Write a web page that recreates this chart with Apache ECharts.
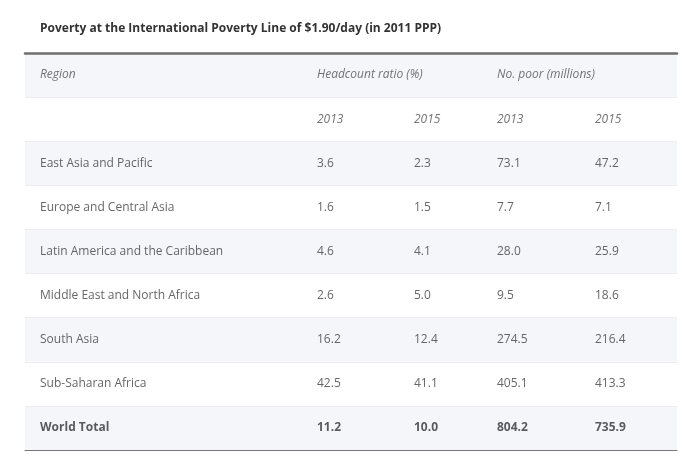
<!DOCTYPE html>
<html>
<head>
<meta charset="utf-8">
<script src="https://cdn.jsdelivr.net/npm/echarts@6/dist/echarts.min.js"></script>
<style>html,body{margin:0;padding:0;background:#fff}#c{width:699px;height:465px}</style>
</head>
<body>
<div id="c"></div>
<script>
// ---- data ----
const title = 'Poverty at the International Poverty Line of $1.90/day (in 2011 PPP)';
const headerRow = ['Region', 'Headcount ratio (%)', '', 'No. poor (millions)', ''];
const yearRow = ['', '2013', '2015', '2013', '2015'];
const regions = ['East Asia and Pacific', 'Europe and Central Asia', 'Latin America and the Caribbean',
  'Middle East and North Africa', 'South Asia', 'Sub-Saharan Africa', 'World Total'];
const headcount2013 = ['3.6', '1.6', '4.6', '2.6', '16.2', '42.5', '11.2'];
const headcount2015 = ['2.3', '1.5', '4.1', '5.0', '12.4', '41.1', '10.0'];
const poor2013 = ['73.1', '7.7', '28.0', '9.5', '274.5', '405.1', '804.2'];
const poor2015 = ['47.2', '7.1', '25.9', '18.6', '216.4', '413.3', '735.9'];

// ---- layout (styling only) ----
const colStart = [15, 292, 389, 472, 570]; // px offset of each column inside table width
const tableWidth = 652;
const FONT = '"Open Sans", sans-serif';

const rowKeys = ['header', 'years'].concat(regions.map((r, i) => 'r' + i));
const bodyCols = [regions, headcount2013, headcount2015, poor2013, poor2015];

function cellText(c, r) {
  if (r === 0) return headerRow[c];
  if (r === 1) return yearRow[c];
  return bodyCols[c][r - 2];
}
function cellStyle(r) {
  if (r <= 1) return { fontStyle: 'italic', color: '#505050' };
  if (r === rowKeys.length - 1) return { fontWeight: 'bold', color: '#333' };
  return { color: '#404040' };
}

const series = [];
for (let c = 0; c < 5; c++) {
  const data = [];
  for (let r = 0; r < rowKeys.length; r++) {
    const t = cellText(c, r);
    if (!t) continue;
    const st = cellStyle(r);
    data.push({
      value: [colStart[c], rowKeys[r]],
      label: { formatter: t, fontStyle: st.fontStyle || 'normal', fontWeight: st.fontWeight || 'normal', color: st.color }
    });
  }
  series.push({
    type: 'scatter', symbolSize: 0, silent: true, animation: false, data,
    label: { show: true, position: [0, 0], align: 'left', verticalAlign: 'middle', fontFamily: FONT, fontSize: 12 }
  });
}

const chart = echarts.init(document.getElementById('c'), null, { renderer: 'canvas' });
chart.setOption({
  animation: false,
  title: { text: title, left: 35, top: 18, textStyle: { fontFamily: FONT, fontSize: 12, fontWeight: 'bold', color: '#333' } },
  grid: { left: 25, right: 22, top: 53, bottom: 15 },
  xAxis: [
    { type: 'value', min: 0, max: tableWidth, position: 'top', axisLine: { show: true, onZero: false, lineStyle: { color: '#707070', width: 2.5 } },
      axisTick: { show: false }, axisLabel: { show: false }, splitLine: { show: false } },
    { type: 'value', min: 0, max: tableWidth, position: 'bottom', axisLine: { show: true, onZero: false, lineStyle: { color: '#777', width: 1 } },
      axisTick: { show: false }, axisLabel: { show: false }, splitLine: { show: false } }
  ],
  yAxis: {
    type: 'category', data: rowKeys, inverse: true, boundaryGap: true,
    axisLine: { show: false }, axisTick: { show: false }, axisLabel: { show: false },
    splitLine: { show: true, lineStyle: { color: '#ececf0', width: 1 } },
    splitArea: { show: true, areaStyle: { color: ['#f5f6fa', '#ffffff'] } }
  },
  series
});
</script>
</body>
</html>
